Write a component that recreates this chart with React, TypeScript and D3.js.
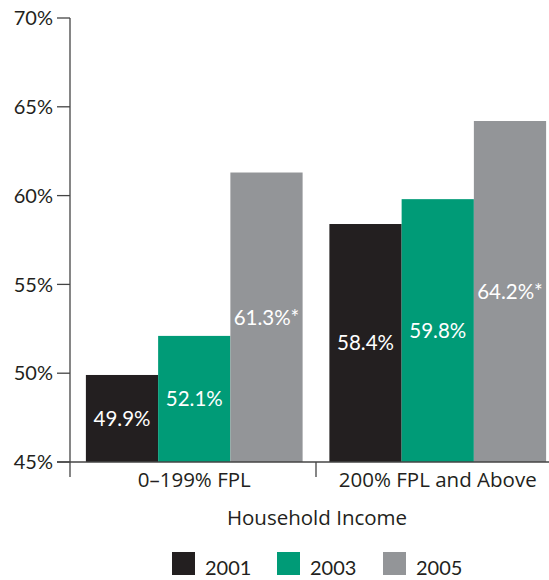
import React from "react";
import * as d3 from "d3";

const categories = ["0–199% FPL", "200% FPL and Above"];
const years = ["2001", "2003", "2005"];
const values2001 = [49.9, 58.4];
const values2003 = [52.1, 59.8];
const values2005 = [61.3, 64.2];
const labelSuffix2005 = ["*", "*"];
const yTicks = [45, 50, 55, 60, 65, 70];
const colors = ["#231f20", "#009b77", "#939598"];

const W = 549;
const H = 580;
const FONT = "Lato, 'Open Sans', sans-serif";
const WORD_FONT = "'Open Sans', Lato, sans-serif";
const TEXT = "#231f20";

export default function App() {
  const series = [values2001, values2003, values2005];
  const y = d3.scaleLinear().domain([45, 70]).range([462, 18]);
  const x0 = d3
    .scaleBand<string>()
    .domain(categories)
    .range([72.5, 559.5])
    .paddingInner(0.11)
    .paddingOuter(0.055);
  const x1 = d3.scaleBand<string>().domain(years).range([0, x0.bandwidth()]);
  const axisX = 70;
  const base = y(45);
  const sepX = (x0(categories[1]) as number) - (x0.step() * 0.11) / 2;

  return (
    <svg
      width={W}
      height={H}
      style={{ position: "absolute", left: 0, top: 0, background: "#fff" }}
      fontFamily={FONT}
    >
      {categories.map((c, ci) => (
        <g key={c} transform={`translate(${x0(c)},0)`}>
          {years.map((yr, si) => {
            const v = series[si][ci];
            const bx = x1(yr) as number;
            const top = y(v);
            const mid = (top + base) / 2;
            const suffix = si === 2 ? labelSuffix2005[ci] : "";
            return (
              <g key={yr}>
                <rect x={bx} y={top} width={x1.bandwidth()} height={base - top} fill={colors[si]} />
                <text
                  x={bx + x1.bandwidth() / 2}
                  y={mid}
                  dy="0.36em"
                  textAnchor="middle"
                  fill="#fff"
                  fontSize={20.5}
                >
                  {v.toFixed(1)}%{suffix}
                </text>
              </g>
            );
          })}
        </g>
      ))}

      <line x1={axisX} x2={axisX} y1={y(70)} y2={477} stroke="#444" strokeWidth={1.3} />
      {yTicks.map((t) => (
        <g key={t}>
          <line x1={57} x2={axisX} y1={y(t)} y2={y(t)} stroke="#444" strokeWidth={1.3} />
          <text x={53} y={y(t)} dy="0.36em" textAnchor="end" fontSize={20} fill={TEXT}>
            {t}%
          </text>
        </g>
      ))}
      <line x1={57} x2={W} y1={base} y2={base} stroke="#444" strokeWidth={1.3} />
      <line x1={sepX} x2={sepX} y1={base} y2={477} stroke="#444" strokeWidth={1.3} />

      {categories.map((c) => (
        <text
          key={c}
          x={(x0(c) as number) + x0.bandwidth() / 2}
          y={487}
          textAnchor="middle"
          fontSize={20.5}
          fontFamily={WORD_FONT}
          fill={TEXT}
        >
          {c}
        </text>
      ))}

      <text x={317} y={525} textAnchor="middle" fontSize={20.5} fontFamily={WORD_FONT} fill={TEXT}>
        Household Income
      </text>

      {years.map((yr, i) => {
        const lx = [172, 277, 383][i];
        return (
          <g key={yr}>
            <rect x={lx} y={552} width={23} height={23} fill={colors[i]} />
            <text x={lx + 33} y={575} fontSize={20} fill={TEXT}>
              {yr}
            </text>
          </g>
        );
      })}
    </svg>
  );
}
